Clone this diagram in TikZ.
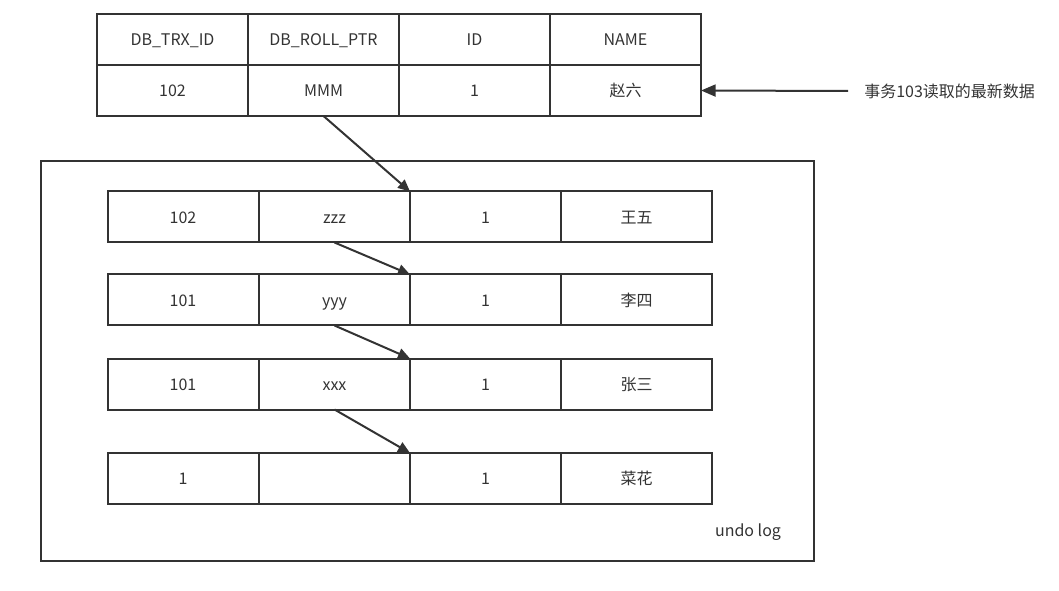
\documentclass[tikz,border=0pt]{standalone}
\usepackage{fontspec}
\setmainfont{Noto Sans CJK SC}
\usetikzlibrary{arrows.meta}
\definecolor{ink}{HTML}{333333}
\begin{document}
\begin{tikzpicture}[x=0.75pt,y=-0.75pt,
  cell/.style={draw=ink,line width=1.5pt,minimum width=113.25pt,minimum height=38.25pt,inner sep=0pt,outer sep=0pt,font=\fontsize{12pt}{14pt}\selectfont,text=ink,text height=0.95em,text depth=0pt},
  ptr/.style={draw=ink,line width=1.5pt,-{Triangle[length=9pt,width=8pt]}},
  lbl/.style={font=\fontsize{12pt}{14pt}\selectfont,text=ink,inner sep=0pt}]
\useasboundingbox (0,0) rectangle (1059,591);
% undo log frame
\node[draw=ink,line width=1.5pt,minimum width=579.75pt,minimum height=300pt,inner sep=0pt,outer sep=0pt] (frame) at (427.5,361) {};
\node[lbl] (undo) at (748,532) {undo log};
% top table
\node[cell] (h1) at (172.5,39.5) {DB\_TRX\_ID};
\node[cell] (h2) at (323.5,39.5) {DB\_ROLL\_PTR};
\node[cell] (h3) at (474.5,39.5) {ID};
\node[cell] (h4) at (625.5,39.5) {NAME};
\node[cell] (t1) at (172.5,90.5) {102};
\node[cell] (t2) at (323.5,90.5) {MMM};
\node[cell] (t3) at (474.5,90.5) {1};
\node[cell] (t4) at (625.5,90.5) {赵六};
% undo rows
\node[cell] (a1) at (183,217) {102};
\node[cell] (a2) at (334.5,217) {zzz};
\node[cell] (a3) at (485.5,217) {1};
\node[cell] (a4) at (636.5,217) {王五};
\node[cell] (b1) at (183,300) {101};
\node[cell] (b2) at (334.5,300) {yyy};
\node[cell] (b3) at (485.5,300) {1};
\node[cell] (b4) at (636.5,300) {李四};
\node[cell] (c1) at (183,384) {101};
\node[cell] (c2) at (334.5,384) {xxx};
\node[cell] (c3) at (485.5,384) {1};
\node[cell] (c4) at (636.5,384) {张三};
\node[cell] (d1) at (183,478.5) {1};
\node[cell] (d2) at (334.5,478.5) {};
\node[cell] (d3) at (485.5,478.5) {1};
\node[cell] (d4) at (636.5,478.5) {菜花};
% pointers
\draw[ptr] (t2.south) -- (a3.north west);
\draw[ptr] (a2.south) -- (b3.north west);
\draw[ptr] (b2.south) -- (c3.north west);
\draw[ptr] (c2.south) -- (d3.north west);
% latest data label
\node[lbl,anchor=west] (note) at (864,91) {事务103读取的最新数据};
\coordinate (ns) at (848,91);
\draw[ptr,-{Triangle[length=11pt,width=9pt]}] (ns) -- (t4.east);
\end{tikzpicture}
\end{document}
